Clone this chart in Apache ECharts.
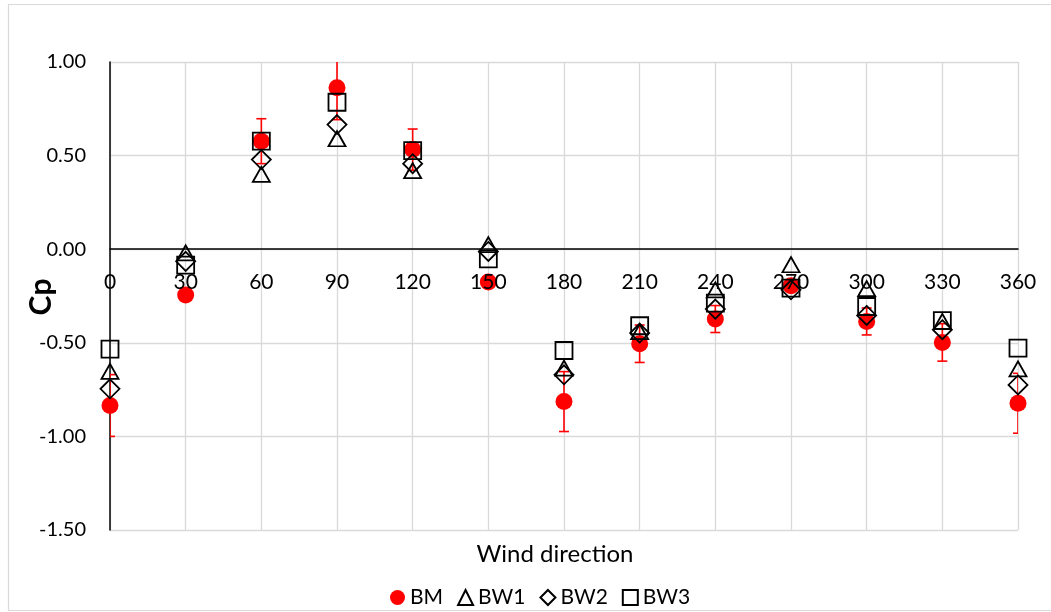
<!DOCTYPE html>
<html>
<head>
<meta charset="utf-8">
<style>
  html, body { margin: 0; padding: 0; background: #fff; }
  #chart { width: 1051px; height: 612px; }
</style>
<script src="https://cdn.jsdelivr.net/npm/echarts@6/dist/echarts.min.js"></script>
</head>
<body>
<div id="chart"></div>
<script>
// Wind directions (degrees)
const directions = [0, 30, 60, 90, 120, 150, 180, 210, 240, 270, 300, 330, 360];

// Pressure coefficient per model
const bm  = [-0.835, -0.245, 0.577, 0.862, 0.532, -0.175, -0.814, -0.505, -0.373, -0.195, -0.386, -0.498, -0.823];
const bmErr = [0.165, 0.03, 0.12, 0.17, 0.11, 0.02, 0.16, 0.10, 0.072, 0.03, 0.072, 0.10, 0.16];
const bw1 = [-0.653, -0.02, 0.40, 0.59, 0.42, 0.024, -0.635, -0.44, -0.217, -0.083, -0.211, -0.386, -0.639];
const bw2 = [-0.746, -0.065, 0.479, 0.666, 0.457, -0.012, -0.671, -0.448, -0.32, -0.217, -0.354, -0.43, -0.725];
const bw3 = [-0.534, -0.085, 0.577, 0.785, 0.527, -0.052, -0.541, -0.409, -0.288, -0.208, -0.306, -0.382, -0.528];

const yTicks = { min: -1.5, max: 1.0, step: 0.5 };
const xTicks = { min: 0, max: 360, step: 30 };

const FONT = 'Lato';
const GRID = { left: 110, right: 33, top: 62, bottom: 82 };
const PLOT_H = 612 - GRID.top - GRID.bottom;

// distance from the bottom of the plot up to the Cp = 0 line
const zeroLift = PLOT_H * (0 - yTicks.min) / (yTicks.max - yTicks.min);

function pairs(vals) {
  return directions.map((d, i) => [d, vals[i]]);
}

const hollow = {
  color: 'rgba(0,0,0,0)',
  borderColor: '#000',
  borderWidth: 1.8,
  opacity: 1
};

const xBase = {
  type: 'value',
  min: xTicks.min,
  max: xTicks.max,
  interval: xTicks.step,
  position: 'bottom',
  offset: -zeroLift,
  axisTick: { show: false }
};

const chart = echarts.init(document.getElementById('chart'), null, { renderer: 'canvas' });

chart.setOption({
  backgroundColor: '#fff',
  animation: false,
  textStyle: { fontFamily: FONT },
  grid: Object.assign({ containLabel: false }, GRID),
  xAxis: [
    // axis line at Cp = 0 and vertical grid, drawn beneath the markers
    Object.assign({}, xBase, {
      axisLine: { onZero: false, lineStyle: { color: '#000', width: 1.5 } },
      axisLabel: { show: false },
      splitLine: { show: true, lineStyle: { color: '#d9d9d9', width: 1.3 } }
    }),
    // direction labels, drawn above the markers
    Object.assign({}, xBase, {
      z: 10,
      axisLine: { show: false, onZero: false },
      axisLabel: { fontSize: 21, color: '#000', margin: 23, fontFamily: FONT },
      splitLine: { show: false }
    })
  ],
  yAxis: {
    type: 'value',
    min: yTicks.min,
    max: yTicks.max,
    interval: yTicks.step,
    axisLine: { show: true, onZero: false, lineStyle: { color: '#000', width: 1.5 } },
    axisTick: { show: false },
    axisLabel: {
      fontSize: 20, color: '#000', margin: 24, fontFamily: FONT,
      formatter: v => v.toFixed(2)
    },
    splitLine: { show: true, lineStyle: { color: '#d9d9d9', width: 1.3 } }
  },
  legend: {
    left: 385,
    top: 582,
    itemWidth: 15,
    itemHeight: 15,
    itemGap: 14,
    textStyle: { fontSize: 21, color: '#000', fontFamily: FONT },
    data: ['BM', 'BW1', 'BW2', 'BW3']
  },
  graphic: [
    {
      type: 'rect',
      silent: true,
      shape: { x: 8.5, y: 4.5, width: 1060, height: 606 },
      style: { fill: 'none', stroke: '#d9d9d9', lineWidth: 1.2 }
    },
    {
      type: 'text',
      x: 555, y: 554,
      style: {
        text: 'Wind direction', fontSize: 24, fontFamily: FONT, fill: '#000',
        textAlign: 'center', textVerticalAlign: 'middle'
      }
    },
    {
      type: 'text',
      x: 41, y: 297,
      rotation: Math.PI / 2,
      style: {
        text: 'Cp', fontSize: 30, fontWeight: 'bold', fontFamily: FONT, fill: '#000',
        textAlign: 'center', textVerticalAlign: 'middle'
      }
    }
  ],
  series: [
    {
      name: 'BM-err',
      type: 'custom',
      clip: true,
      z: 1,
      data: directions.map((d, i) => [d, bm[i], bmErr[i]]),
      renderItem: function (params, api) {
        const x = api.value(0), y = api.value(1), e = api.value(2);
        const hi = api.coord([x, y + e]);
        const lo = api.coord([x, y - e]);
        const half = 5;
        const st = { stroke: '#ff0000', lineWidth: 1.6 };
        return {
          type: 'group',
          children: [
            { type: 'line', shape: { x1: hi[0], y1: hi[1], x2: lo[0], y2: lo[1] }, style: st },
            { type: 'line', shape: { x1: hi[0] - half, y1: hi[1], x2: hi[0] + half, y2: hi[1] }, style: st },
            { type: 'line', shape: { x1: lo[0] - half, y1: lo[1], x2: lo[0] + half, y2: lo[1] }, style: st }
          ]
        };
      }
    },
    {
      name: 'BM',
      type: 'scatter',
      z: 2,
      symbol: 'circle',
      symbolSize: 17,
      itemStyle: { color: '#ff0000', opacity: 1 },
      data: pairs(bm)
    },
    {
      name: 'BW1',
      type: 'scatter',
      z: 3,
      symbol: 'triangle',
      symbolSize: [17, 15],
      itemStyle: hollow,
      data: pairs(bw1)
    },
    {
      name: 'BW2',
      type: 'scatter',
      z: 3,
      symbol: 'diamond',
      symbolSize: [19, 19],
      itemStyle: hollow,
      data: pairs(bw2)
    },
    {
      name: 'BW3',
      type: 'scatter',
      z: 3,
      symbol: 'rect',
      symbolSize: 17,
      itemStyle: hollow,
      data: pairs(bw3)
    }
  ]
});
</script>
</body>
</html>
